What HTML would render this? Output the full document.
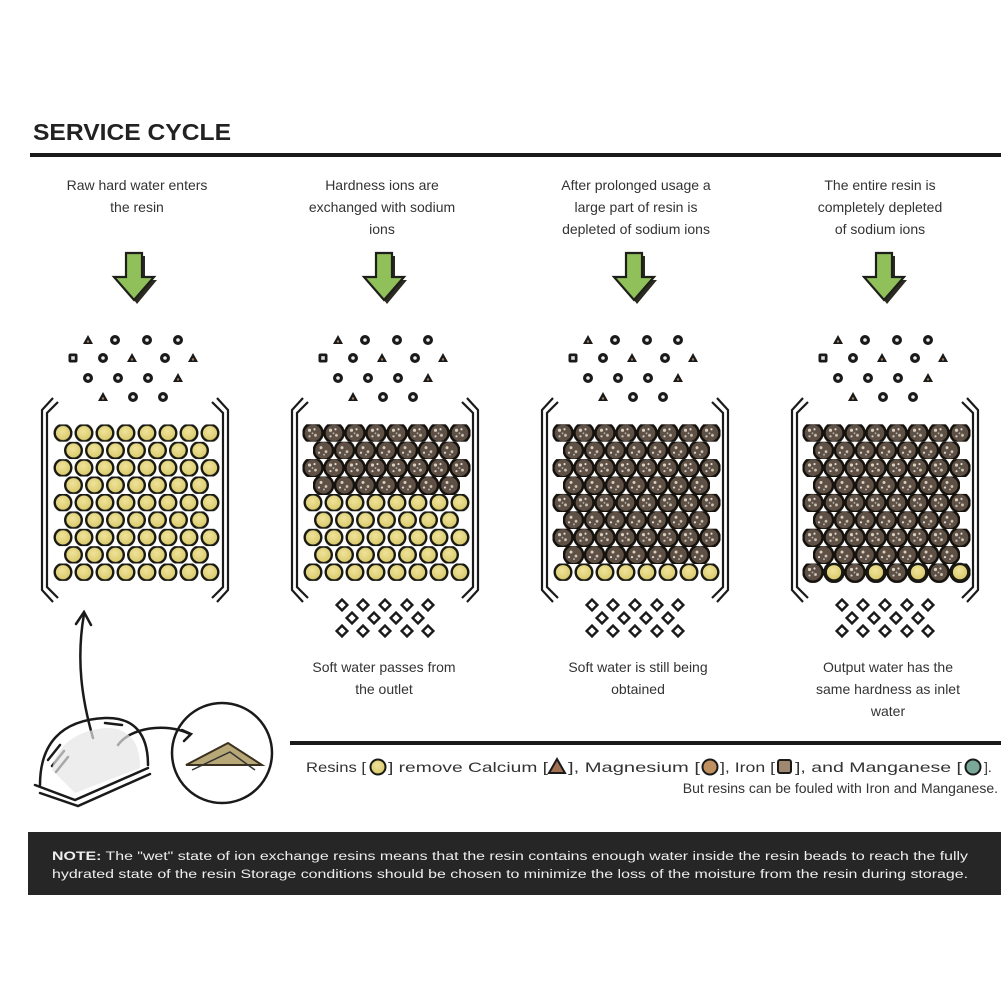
<!DOCTYPE html>
<html><head><meta charset="utf-8"><style>
html,body{margin:0;padding:0;background:#fff;}
svg{display:block;}
text{font-family:"Liberation Sans",sans-serif;}
</style></head><body>
<svg width="1001" height="1001" viewBox="0 0 1001 1001" xmlns="http://www.w3.org/2000/svg">
<defs>
<radialGradient id="yg" cx="0.45" cy="0.4" r="0.6"><stop offset="0" stop-color="#efe39a"/><stop offset="1" stop-color="#d8c868"/></radialGradient>
<pattern id="YA" patternUnits="userSpaceOnUse" x="52.5" y="424.3" width="21" height="34.8"><circle cx="10.5" cy="8.7" r="8.3" fill="url(#yg)" stroke="#1a1a14" stroke-width="2.4"/></pattern>
<pattern id="YB" patternUnits="userSpaceOnUse" x="63" y="441.7" width="21" height="34.8"><circle cx="10.5" cy="8.7" r="8.3" fill="url(#yg)" stroke="#1a1a14" stroke-width="2.4"/></pattern>
<pattern id="DA" patternUnits="userSpaceOnUse" x="52.5" y="424.3" width="21" height="34.8"><circle cx="10.5" cy="8.7" r="9.6" fill="#5e5044" stroke="#15120e" stroke-width="2.6"/><circle cx="7" cy="6" r="1.6" fill="#d8d0c0"/><circle cx="13" cy="11" r="1.4" fill="#cfc6b4"/><circle cx="12" cy="5" r="1.1" fill="#ddd"/><circle cx="7" cy="12" r="1.1" fill="#ccc"/><circle cx="10" cy="9" r="0.9" fill="#bbb"/></pattern>
<pattern id="DB" patternUnits="userSpaceOnUse" x="63" y="441.7" width="21" height="34.8"><circle cx="10.5" cy="8.7" r="9.6" fill="#5e5044" stroke="#15120e" stroke-width="2.6"/><circle cx="8" cy="6" r="1.5" fill="#d8d0c0"/><circle cx="13" cy="10" r="1.4" fill="#cfc6b4"/><circle cx="6" cy="11" r="1.1" fill="#ddd"/><circle cx="11" cy="13" r="0.9" fill="#bbb"/></pattern>
<g id="tri"><path d="M0,-5 L5,4 L-5,4Z" fill="#1a1a1a"/><circle cx="0" cy="1.5" r="1.2" fill="#a08060"/></g>
<g id="pen"><circle r="5" fill="#1a1a1a"/><circle r="1.8" fill="#eee"/></g>
<g id="sq"><rect x="-4.5" y="-4.5" width="9" height="9" rx="2" fill="#1a1a1a"/><rect x="-1.8" y="-1.8" width="3.6" height="3.6" fill="#ddd"/></g>
<g id="dia"><rect x="-3.8" y="-3.8" width="7.6" height="7.6" transform="rotate(45)" fill="#fff" stroke="#1a1a1a" stroke-width="2.4"/></g>
<g id="top">
<use href="#tri" x="88" y="340"/><use href="#pen" x="115" y="340"/><use href="#pen" x="147" y="340"/><use href="#pen" x="178" y="340"/>
<use href="#sq" x="73" y="358"/><use href="#pen" x="103" y="358"/><use href="#tri" x="132" y="358"/><use href="#pen" x="165" y="358"/><use href="#tri" x="193" y="358"/>
<use href="#pen" x="88" y="378"/><use href="#pen" x="118" y="378"/><use href="#pen" x="148" y="378"/><use href="#tri" x="178" y="378"/>
<use href="#tri" x="103" y="397"/><use href="#pen" x="133" y="397"/><use href="#pen" x="163" y="397"/>
</g>
<g id="bot">
<use href="#dia" x="92" y="605"/><use href="#dia" x="113" y="605"/><use href="#dia" x="135" y="605"/><use href="#dia" x="157" y="605"/><use href="#dia" x="178" y="605"/>
<use href="#dia" x="102" y="618"/><use href="#dia" x="124" y="618"/><use href="#dia" x="146" y="618"/><use href="#dia" x="168" y="618"/>
<use href="#dia" x="92" y="631"/><use href="#dia" x="113" y="631"/><use href="#dia" x="135" y="631"/><use href="#dia" x="157" y="631"/><use href="#dia" x="178" y="631"/>
</g>
<g id="frame" fill="none" stroke="#1a1a1a" stroke-width="2.2">
<path d="M53,398 L42,410 L42,590 L53,602"/><path d="M58,402 L47,413 L47,587 L58,598"/>
<path d="M217,398 L228,410 L228,590 L217,602"/><path d="M212,402 L223,413 L223,587 L212,598"/>
</g>
<g id="arrow">
<path d="M141,256 L131,256 L131,280 L119,280 L137,304 L157,280 L145,280 L145,256Z" fill="#2a2a22"/>
<path d="M134,253 L126,253 L126,277 L114,277 L134,300 L154,277 L142,277 L142,253Z" fill="#8fc05a" stroke="#1e1e1a" stroke-width="2.2"/>
</g>
</defs>

<text x="33" y="140" font-size="23" font-weight="bold" fill="#222" textLength="198" lengthAdjust="spacingAndGlyphs">SERVICE CYCLE</text>
<rect x="30" y="153" width="971" height="4" fill="#1a1a1a"/>

<g font-size="14" fill="#333" text-anchor="middle">
<text x="137" y="190">Raw hard water enters</text><text x="137" y="212">the resin</text>
<text x="382" y="190">Hardness ions are</text><text x="382" y="212">exchanged with sodium</text><text x="382" y="234">ions</text>
<text x="636" y="190">After prolonged usage a</text><text x="636" y="212">large part of resin is</text><text x="636" y="234">depleted of sodium ions</text>
<text x="880" y="190">The entire resin is</text><text x="880" y="212">completely depleted</text><text x="880" y="234">of sodium ions</text>
<text x="384" y="672">Soft water passes from</text><text x="384" y="694">the outlet</text>
<text x="638" y="672">Soft water is still being</text><text x="638" y="694">obtained</text>
<text x="888" y="672">Output water has the</text><text x="888" y="694">same hardness as inlet</text><text x="888" y="716">water</text>
</g>

<g>
<use href="#arrow"/><use href="#top"/><use href="#frame"/>
<rect x="52.5" y="424.3" width="168" height="17.4" fill="url(#YA)"/>
<rect x="63" y="441.7" width="147" height="17.4" fill="url(#YB)"/>
<rect x="52.5" y="459.1" width="168" height="17.4" fill="url(#YA)"/>
<rect x="63" y="476.5" width="147" height="17.4" fill="url(#YB)"/>
<rect x="52.5" y="493.9" width="168" height="17.4" fill="url(#YA)"/>
<rect x="63" y="511.3" width="147" height="17.4" fill="url(#YB)"/>
<rect x="52.5" y="528.7" width="168" height="17.4" fill="url(#YA)"/>
<rect x="63" y="546.1" width="147" height="17.4" fill="url(#YB)"/>
<rect x="52.5" y="563.5" width="168" height="17.4" fill="url(#YA)"/>
</g>
<g transform="translate(250,0)">
<use href="#arrow"/><use href="#top"/><use href="#frame"/><use href="#bot"/>
<rect x="52.5" y="493.9" width="168" height="17.4" fill="url(#YA)"/>
<rect x="63" y="511.3" width="147" height="17.4" fill="url(#YB)"/>
<rect x="52.5" y="528.7" width="168" height="17.4" fill="url(#YA)"/>
<rect x="63" y="546.1" width="147" height="17.4" fill="url(#YB)"/>
<rect x="52.5" y="563.5" width="168" height="17.4" fill="url(#YA)"/>
<rect x="52.5" y="422" width="168" height="19.7" fill="url(#DA)"/>
<rect x="63" y="440" width="147" height="19" fill="url(#DB)"/>
<rect x="52.5" y="458" width="168" height="19" fill="url(#DA)"/>
<rect x="63" y="476" width="147" height="19" fill="url(#DB)"/>
</g>
<g transform="translate(500,0)">
<use href="#arrow"/><use href="#top"/><use href="#frame"/><use href="#bot"/>
<rect x="52.5" y="563.5" width="168" height="17.4" fill="url(#YA)"/>
<rect x="52.5" y="422" width="168" height="19.7" fill="url(#DA)"/>
<rect x="63" y="440" width="147" height="19" fill="url(#DB)"/>
<rect x="52.5" y="458" width="168" height="19" fill="url(#DA)"/>
<rect x="63" y="476" width="147" height="19" fill="url(#DB)"/>
<rect x="52.5" y="493" width="168" height="19" fill="url(#DA)"/>
<rect x="63" y="510" width="147" height="19" fill="url(#DB)"/>
<rect x="52.5" y="528" width="168" height="19" fill="url(#DA)"/>
<rect x="63" y="545" width="147" height="19" fill="url(#DB)"/>
</g>
<g transform="translate(750,0)">
<use href="#arrow"/><use href="#top"/><use href="#frame"/><use href="#bot"/>
<rect x="52.5" y="422" width="168" height="19.7" fill="url(#DA)"/>
<rect x="63" y="440" width="147" height="19" fill="url(#DB)"/>
<rect x="52.5" y="458" width="168" height="19" fill="url(#DA)"/>
<rect x="63" y="476" width="147" height="19" fill="url(#DB)"/>
<rect x="52.5" y="493" width="168" height="19" fill="url(#DA)"/>
<rect x="63" y="510" width="147" height="19" fill="url(#DB)"/>
<rect x="52.5" y="528" width="168" height="19" fill="url(#DA)"/>
<rect x="63" y="545" width="147" height="19" fill="url(#DB)"/>
<rect x="52.5" y="562" width="168" height="21" fill="url(#DA)"/>
<circle cx="84" cy="572.2" r="8.3" fill="url(#yg)" stroke="#1a1a14" stroke-width="2.4"/>
<circle cx="126" cy="572.2" r="8.3" fill="url(#yg)" stroke="#1a1a14" stroke-width="2.4"/>
<circle cx="168" cy="572.2" r="8.3" fill="url(#yg)" stroke="#1a1a14" stroke-width="2.4"/>
<circle cx="210" cy="572.2" r="8.3" fill="url(#yg)" stroke="#1a1a14" stroke-width="2.4"/>
</g>

<g fill="none" stroke="#1a1a1a" stroke-width="2.5" stroke-linecap="round">
<path d="M93,738 C82,700 76,660 84,614"/>
<path d="M76,624 L84,612 L91,625"/>
<path d="M40,785 C40,745 60,720 105,718 C135,717 148,735 148,765"/>
<path d="M35,785 L75,800 L148,768"/>
<path d="M40,793 L78,806 L150,774"/>
<path d="M118,745 C130,728 165,722 190,734"/>
<path d="M182,730 L191,734 L184,741"/>
<path d="M48,760 L60,745 M52,766 L64,751 M56,772 L68,757"/>
<path d="M105,723 L122,725"/>
<circle cx="222" cy="753" r="50"/>
</g>
<path d="M52,770 C55,745 80,728 110,728 C132,730 140,745 140,768 L75,793Z" fill="#e6e6e6" opacity="0.7"/>
<path d="M186,765 L228,743 L262,765Z" fill="#b8a878" stroke="#3a3020" stroke-width="2"/>
<path d="M192,770 L230,752 L255,770" fill="none" stroke="#333" stroke-width="1.5"/>

<rect x="290" y="741" width="711" height="4" fill="#1a1a1a"/>
<g font-size="14" fill="#333">
<text x="306" y="772" textLength="60" lengthAdjust="spacingAndGlyphs">Resins [</text>
<text x="388" y="772" textLength="160" lengthAdjust="spacingAndGlyphs">] remove Calcium [</text>
<text x="568" y="772" textLength="132" lengthAdjust="spacingAndGlyphs">], Magnesium [</text>
<text x="720" y="772" textLength="55" lengthAdjust="spacingAndGlyphs">], Iron [</text>
<text x="795" y="772" textLength="167" lengthAdjust="spacingAndGlyphs">], and Manganese [</text>
<text x="984" y="772">].</text>
<text x="998" y="793" text-anchor="end">But resins can be fouled with Iron and Manganese.</text>
</g>
<circle cx="378" cy="767" r="7.5" fill="url(#yg)" stroke="#1a1a14" stroke-width="2"/>
<path d="M557,759 L565,773 L549,773Z" fill="#a07050" stroke="#1a1a1a" stroke-width="2"/>
<circle cx="710" cy="767" r="7.5" fill="#c09060" stroke="#1a1a1a" stroke-width="2"/>
<rect x="778" y="760" width="13" height="13" rx="2" fill="#a08870" stroke="#1a1a1a" stroke-width="2"/>
<circle cx="973" cy="767" r="7.5" fill="#7aa898" stroke="#1a1a1a" stroke-width="2"/>

<rect x="28" y="832" width="973" height="63" fill="#262626"/>
<g font-size="11.5" fill="#eee">
<text x="52" y="860" textLength="916" lengthAdjust="spacingAndGlyphs"><tspan font-weight="bold">NOTE:</tspan> The "wet" state of ion exchange resins means that the resin contains enough water inside the resin beads to reach the fully</text>
<text x="52" y="878" textLength="916" lengthAdjust="spacingAndGlyphs">hydrated state of the resin Storage conditions should be chosen to minimize the loss of the moisture from the resin during storage.</text>
</g>
</svg>
</body></html>
